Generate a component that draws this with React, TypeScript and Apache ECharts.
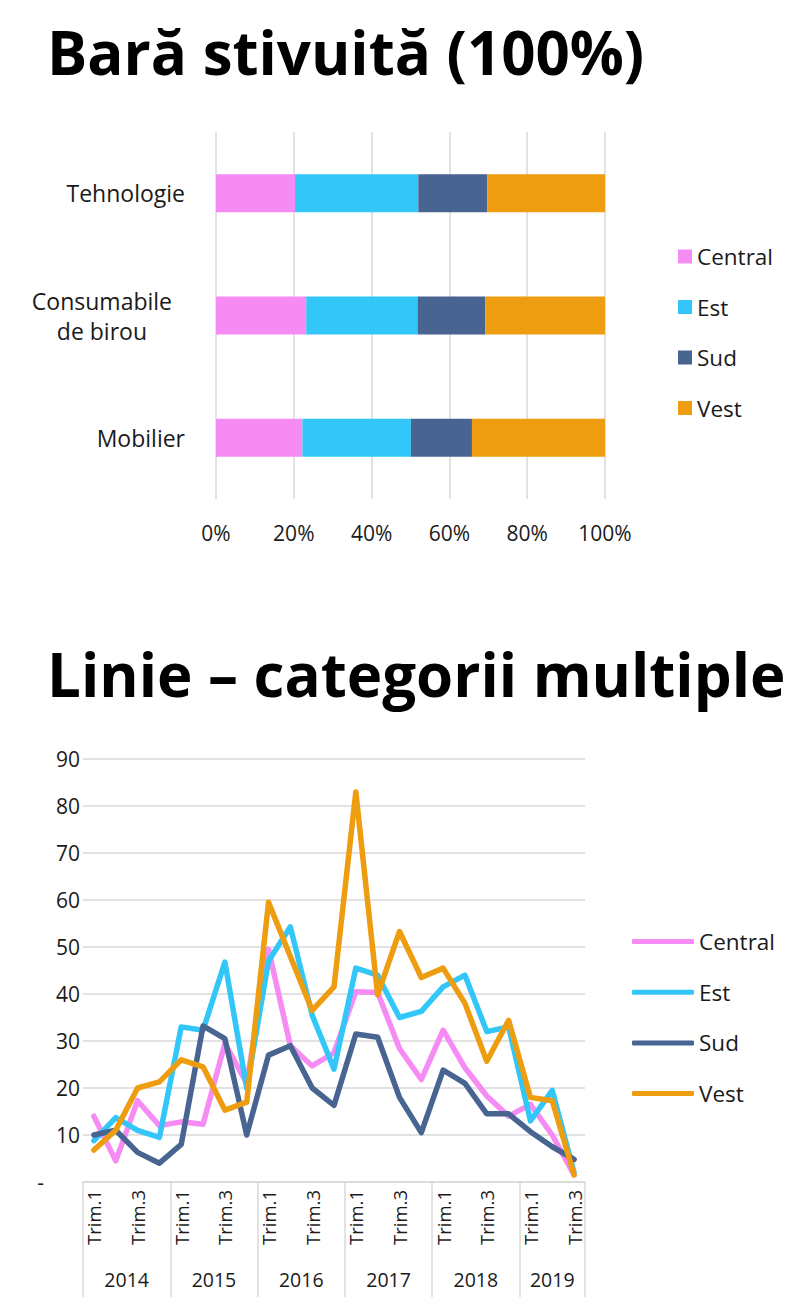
import React, { useEffect, useRef } from 'react';
import * as echarts from 'echarts';

// ---------- Bar chart (100% stacked) ----------
const barCategories = ['Mobilier', 'Consumabile\nde birou', 'Tehnologie'];
const barCentral = [22.2, 23.2, 20.3];
const barEst = [27.9, 28.6, 31.7];
const barSud = [15.7, 17.4, 17.7];
const barVest = [34.2, 30.8, 30.3];

// ---------- Line chart (multi-level categories) ----------
const years = ['2014', '2015', '2016', '2017', '2018', '2019'];
const quartersPerYear = [4, 4, 4, 4, 4, 3];
const quarterLabels = [
  'Trim.1', 'Trim.2', 'Trim.3', 'Trim.4',
  'Trim.1', 'Trim.2', 'Trim.3', 'Trim.4',
  'Trim.1', 'Trim.2', 'Trim.3', 'Trim.4',
  'Trim.1', 'Trim.2', 'Trim.3', 'Trim.4',
  'Trim.1', 'Trim.2', 'Trim.3', 'Trim.4',
  'Trim.1', 'Trim.2', 'Trim.3',
];
const lineCentral = [14, 4.5, 17.3, 12, 12.8, 12.3, 29.5, 21, 49.5, 29, 24.7, 27.5, 40.5, 40.3, 28.4, 21.8, 32.3, 24.3, 18.3, 14, 16.5, 10, 1.5];
const lineEst = [8.8, 13.7, 11, 9.5, 33, 32.3, 46.8, 20, 47, 54.3, 35.5, 24, 45.5, 44, 35, 36.3, 41.5, 44, 32, 33, 13, 19.5, 2];
const lineSud = [10, 11, 6.3, 4, 8, 33.2, 30.5, 10, 27, 29, 20, 16.3, 31.5, 30.8, 18, 10.5, 23.8, 21, 14.5, 14.5, 10.7, 7.5, 4.8];
const lineVest = [6.8, 11, 20, 21.3, 26, 24.5, 15.3, 17, 59.5, 48, 36.5, 41.5, 83, 39.8, 53.3, 43.5, 45.5, 38, 25.7, 34.4, 18, 17.3, 1.5];

const seriesNames = ['Central', 'Est', 'Sud', 'Vest'];
const colors = ['#F68CF3', '#33C7F9', '#486592', '#EE9C10'];

const FONT = 'Open Sans';
const GRID_GRAY = '#D9D9D9';
const TEXT = '#1a1a1a';

export default function App() {
  const ref = useRef<HTMLDivElement>(null);

  useEffect(() => {
    if (!ref.current) return;
    document.body.style.margin = '0';
    const chart = echarts.init(ref.current, undefined, { renderer: 'svg' });

    // year-level axis: half-quarter slots, boundaries & centres derived from quartersPerYear
    const boundaries: number[] = [0];
    const centres: Record<number, string> = {};
    let acc = 0;
    quartersPerYear.forEach((n, i) => {
      centres[acc + n] = years[i];
      acc += n * 2;
      boundaries.push(acc);
    });
    const yearSlots = Array.from({ length: acc + 1 }, (_, i) => String(i));

    const barData = [barCentral, barEst, barSud, barVest];
    const lineData = [lineCentral, lineEst, lineSud, lineVest];

    const option: any = {
      animation: false,
      backgroundColor: '#ffffff',
      textStyle: { fontFamily: FONT },
      title: [
        {
          text: 'Bară stivuită (100%)',
          left: 42,
          top: 12,
          textStyle: { fontFamily: FONT, fontSize: 60, fontWeight: 'bold', color: '#000', lineHeight: 70 },
        },
        {
          text: 'Linie – categorii multiple',
          left: 42,
          top: 634,
          textStyle: { fontFamily: FONT, fontSize: 60, fontWeight: 'bold', color: '#000', lineHeight: 70 },
        },
      ],
      legend: [
        {
          orient: 'vertical',
          left: 673,
          top: 240,
          icon: 'rect',
          itemWidth: 14,
          itemHeight: 14,
          itemGap: 27.5,
          data: seriesNames,
          textStyle: { fontFamily: FONT, fontSize: 22.5, color: TEXT, lineHeight: 20 },
        },
        {
          orient: 'vertical',
          left: 627,
          top: 925,
          icon: 'roundRect',
          itemWidth: 62,
          itemHeight: 5,
          itemGap: 27.7,
          data: seriesNames,
          textStyle: { fontFamily: FONT, fontSize: 22.5, color: TEXT, lineHeight: 20 },
        },
      ],
      grid: [
        { left: 216, top: 132, width: 389, height: 367 },
        { left: 83, top: 759, width: 502, height: 423 },
      ],
      xAxis: [
        {
          type: 'value',
          gridIndex: 0,
          min: 0,
          max: 100,
          interval: 20,
          axisLine: { show: false },
          axisTick: { show: false },
          splitLine: { show: true, lineStyle: { color: GRID_GRAY, width: 1.5 } },
          axisLabel: { formatter: '{value}%', fontSize: 21, color: TEXT, margin: 23, fontFamily: FONT },
        },
        {
          type: 'category',
          gridIndex: 1,
          data: quarterLabels,
          boundaryGap: true,
          axisLine: { show: false },
          axisTick: { show: false },
          axisLabel: { rotate: 90, interval: 1, fontSize: 18.5, color: TEXT, margin: 8, fontFamily: FONT },
        },
        {
          type: 'category',
          gridIndex: 1,
          position: 'bottom',
          data: yearSlots,
          boundaryGap: false,
          axisLine: { show: true, lineStyle: { color: GRID_GRAY, width: 1.5 } },
          axisTick: {
            show: true,
            length: 115,
            interval: (i: number) => boundaries.includes(i),
            lineStyle: { color: GRID_GRAY, width: 1.5 },
          },
          axisLabel: {
            interval: (i: number) => centres[i] !== undefined,
            formatter: (_v: string, i: number) => centres[i] || '',
            fontSize: 19.5,
            color: TEXT,
            margin: 87,
            fontFamily: FONT,
          },
          splitLine: { show: false },
        },
      ],
      yAxis: [
        {
          type: 'category',
          gridIndex: 0,
          data: barCategories.map((c) =>
            c.includes('\n') ? { value: c, textStyle: { padding: [0, 13, 0, 0] } } : c
          ),
          axisLine: { show: false },
          axisTick: { show: false },
          axisLabel: {
            fontSize: 23,
            color: TEXT,
            margin: 31,
            fontFamily: FONT,
            formatter: (v: string) => v.split('\n').map((s) => `{c|${s}}`).join('\n'),
            rich: { c: { fontSize: 23, color: TEXT, fontFamily: FONT, align: 'center', lineHeight: 30 } },
          },
        },
        {
          type: 'value',
          gridIndex: 1,
          min: 0,
          max: 90,
          interval: 10,
          axisLine: { show: false },
          axisTick: { show: false },
          splitLine: { show: true, lineStyle: { color: GRID_GRAY, width: 1.5 } },
          axisLabel: {
            fontSize: 21,
            color: TEXT,
            margin: 3,
            fontFamily: FONT,
            formatter: (v: number) => (v === 0 ? '{d|-}' : String(v)),
            rich: { d: { fontSize: 21, color: TEXT, fontFamily: FONT, padding: [0, 36, 0, 0] } },
          },
        },
      ],
      series: [
        ...seriesNames.map((name, k) => ({
          name,
          type: 'bar',
          xAxisIndex: 0,
          yAxisIndex: 0,
          stack: 'total',
          barWidth: 38,
          itemStyle: { color: colors[k] },
          data: barData[k],
        })),
        ...seriesNames.map((name, k) => ({
          name,
          type: 'line',
          xAxisIndex: 1,
          yAxisIndex: 1,
          symbol: 'none',
          lineStyle: { color: colors[k], width: 5.5, cap: 'round', join: 'round' },
          itemStyle: { color: colors[k] },
          data: lineData[k],
        })),
      ],
    };

    chart.setOption(option);
    return () => chart.dispose();
  }, []);

  return (
    <div
      ref={ref}
      style={{ position: 'absolute', left: 0, top: 0, width: 809, height: 1312, background: '#fff' }}
    />
  );
}
